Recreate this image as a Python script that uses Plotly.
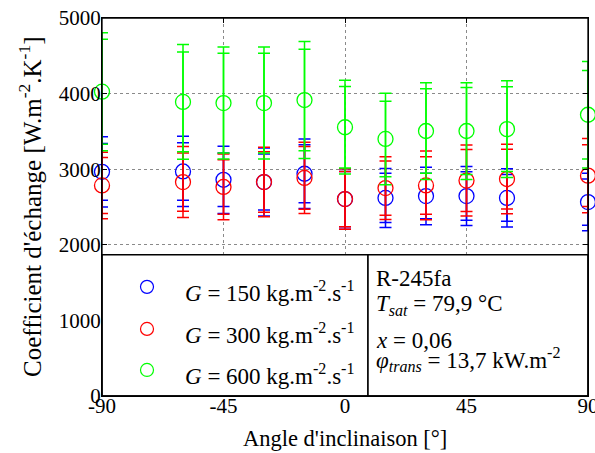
import plotly.graph_objects as go

# ---------------- data ----------------
angles = [-90, -60, -45, -30, -15, 0, 15, 30, 45, 60, 90]

h_150 = [2965, 2970, 2860, 2830, 2940, 2605, 2620, 2645, 2645, 2620, 2565]
h_300 = [2785, 2830, 2765, 2830, 2885, 2605, 2750, 2785, 2850, 2870, 2915]
h_600 = [4025, 3890, 3875, 3875, 3915, 3555, 3400, 3505, 3505, 3530, 3720]

err_outer_150 = [465, 465, 445, 450, 460, 400, 390, 380, 390, 385, 380]
err_inner_150 = [375, 380, 355, 370, 385, 365, 325, 300, 320, 310, 305]
err_outer_300 = [440, 470, 435, 460, 470, 400, 415, 455, 470, 460, 490]
err_inner_300 = [370, 385, 360, 400, 415, 365, 360, 380, 410, 395, 410]
err_outer_600 = [780, 760, 740, 740, 775, 620, 605, 640, 640, 640, 705]
err_inner_600 = [695, 660, 660, 660, 670, 540, 500, 560, 575, 560, 585]

series_labels = ["150", "300", "600"]
x_ticks = [-90, -45, 0, 45, 90]
y_ticks = [0, 1000, 2000, 3000, 4000, 5000]

x_title = "Angle d'inclinaison [°]"
y_title = "Coefficient d'échange [W.m<sup>-2</sup>.K<sup>-1</sup>]"
info_lines = [
    "R-245fa",
    "<i>T</i><sub><i>sat</i></sub> = 79,9 °C",
    "<i>x</i> = 0,06",
    "<i>φ</i><sub><i>trans</i></sub> = 13,7 kW.m<sup>-2</sup>",
]

# ---------------- styling ----------------
FONT = "Liberation Serif, Times New Roman, serif"
colors = ["#0000FF", "#FF0000", "#00FF00"]
values = [h_150, h_300, h_600]
outer = [err_outer_150, err_outer_300, err_outer_600]
inner = [err_inner_150, err_inner_300, err_inner_600]

fig = go.Figure()
for lab, col, v, eo, ei in zip(series_labels, colors, values, outer, inner):
    # inner uncertainty bars
    fig.add_trace(go.Scatter(
        x=angles, y=v, mode="markers", cliponaxis=False,
        marker=dict(size=1, opacity=0),
        error_y=dict(type="data", array=ei, symmetric=True, color=col,
                     thickness=1.5, width=6),
        showlegend=False, hoverinfo="skip"))
    # outer uncertainty bars + markers
    fig.add_trace(go.Scatter(
        x=angles, y=v, mode="markers", cliponaxis=False,
        marker=dict(symbol="circle-open", size=15, color=col,
                    line=dict(width=1.3, color=col)),
        error_y=dict(type="data", array=eo, symmetric=True, color=col,
                     thickness=1.5, width=6),
        name=f"G = {lab}", showlegend=False))

# helpers: picture pixels -> data / paper coords (plot area x 102..588, y 18..396)
def px_x(p):
    return (p - 345) / 2.7

def px_y(p):
    return (396 - p) / 0.0755

def paper_x(p):
    return (p - 102) / 486

def paper_y(p):
    return (396 - p) / 378

box_top = px_y(255)
box_split = px_x(368)

shapes = [
    dict(type="rect", xref="x", yref="y", x0=-90, x1=box_split, y0=0, y1=box_top,
         line=dict(color="black", width=1.5), fillcolor="white", layer="above"),
    dict(type="rect", xref="x", yref="y", x0=box_split, x1=90, y0=0, y1=box_top,
         line=dict(color="black", width=1.5), fillcolor="white", layer="above"),
    # plot frame
    dict(type="rect", xref="paper", yref="paper", x0=0, x1=1, y0=0, y1=1,
         line=dict(color="black", width=1.3), fillcolor="rgba(0,0,0,0)", layer="above"),
]

annotations = []
leg_y = [287, 329, 370]
for lab, col, py in zip(series_labels, colors, leg_y):
    shapes.append(dict(type="circle", xref="x", yref="y",
                       xsizemode="pixel", ysizemode="pixel",
                       xanchor=px_x(147), yanchor=px_y(py),
                       x0=-6.5, x1=6.5, y0=-6.5, y1=6.5,
                       line=dict(color=col, width=1.2), layer="above"))
    annotations.append(dict(
        xref="x", yref="y", x=px_x(183), y=px_y(py + 5),
        xanchor="left", yanchor="middle", showarrow=False,
        text=f"<i>G</i> = {lab} kg.m<sup>-2</sup>.s<sup>-1</sup>",
        font=dict(family=FONT, size=23, color="black")))

info_y = [279, 305, 341, 360]
for t, py in zip(info_lines, info_y):
    annotations.append(dict(
        xref="x", yref="y", x=px_x(374), y=px_y(py),
        xanchor="left", yanchor="middle", showarrow=False, text=t,
        font=dict(family=FONT, size=23, color="black")))

# axis titles
annotations.append(dict(xref="paper", yref="paper", x=paper_x(345), y=paper_y(438),
                        xanchor="center", yanchor="middle", showarrow=False,
                        text=x_title, font=dict(family=FONT, size=22.5, color="black")))
annotations.append(dict(xref="paper", yref="paper", x=paper_x(30), y=paper_y(207),
                        xanchor="center", yanchor="middle", showarrow=False,
                        textangle=-90, text=y_title,
                        font=dict(family=FONT, size=25, color="black")))

grid = dict(showgrid=True, gridcolor="#8a8a8a", griddash="dot", gridwidth=1)

fig.update_layout(
    width=595, height=453,
    margin=dict(l=102, r=7, t=18, b=57, autoexpand=False),
    paper_bgcolor="white", plot_bgcolor="white",
    font=dict(family=FONT, size=21, color="black"),
    showlegend=False,
    shapes=shapes, annotations=annotations,
    xaxis=dict(range=[-90, 90], tickvals=x_ticks, ticktext=[str(v) for v in x_ticks],
               ticks="inside", ticklen=5, tickcolor="black", showline=True,
               linecolor="black", linewidth=1.2, mirror="allticks", zeroline=False,
               automargin=False, ticklabelstandoff=-9, ticklabeloverflow="allow",
               tickfont=dict(family=FONT, size=21), **grid),
    yaxis=dict(range=[0, 5000], tickvals=y_ticks, ticktext=[str(v) for v in y_ticks],
               ticks="inside", ticklen=5, tickcolor="black", showline=True,
               linecolor="black", linewidth=1.2, mirror="allticks", zeroline=False,
               automargin=False, ticklabelstandoff=-4, ticklabeloverflow="allow",
               tickfont=dict(family=FONT, size=21), **grid),
)

# remove the default 8px page margin so the figure sits at the window's corner
fig.write_html(
    "out.html",
    config={"displayModeBar": False},
    post_script="document.body.style.margin='0px';document.body.style.overflow='hidden';",
)
